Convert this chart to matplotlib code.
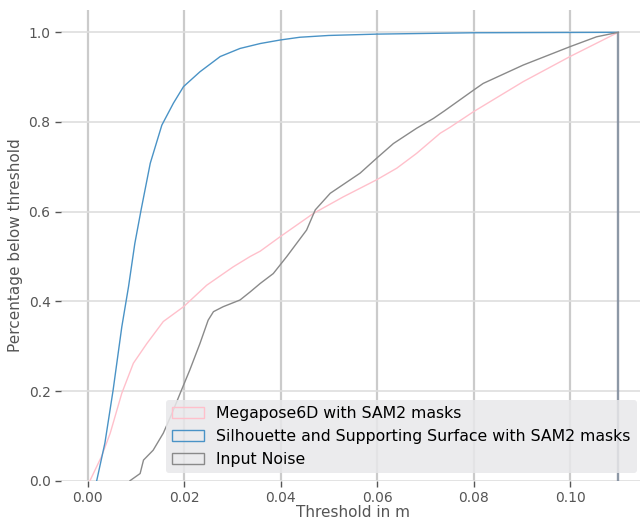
import matplotlib
matplotlib.use("Agg")
import matplotlib.pyplot as plt
from matplotlib.patches import Patch
import numpy as np

# cumulative share of samples below threshold
mega_x = [0.0005, 0.0029, 0.0047, 0.0071, 0.0095, 0.0123, 0.0157, 0.0199, 0.0247,
          0.0302, 0.0337, 0.0358, 0.0399, 0.0468, 0.0530, 0.0599, 0.0641, 0.0682,
          0.0731, 0.0751, 0.0800, 0.0903, 0.1000, 0.1100]
mega_y = [0.0, 0.054, 0.106, 0.195, 0.262, 0.306, 0.355, 0.388, 0.436,
          0.477, 0.500, 0.512, 0.544, 0.596, 0.633, 0.671, 0.697, 0.730,
          0.775, 0.788, 0.823, 0.890, 0.946, 1.0]

sil_x = [0.0019, 0.0036, 0.0053, 0.0071, 0.0085, 0.0098, 0.0111, 0.0130, 0.0154,
         0.0178, 0.0199, 0.0233, 0.0275, 0.0316, 0.0358, 0.0400, 0.0440, 0.0500,
         0.0600, 0.0800, 0.1100]
sil_y = [0.0, 0.084, 0.202, 0.343, 0.433, 0.529, 0.604, 0.708, 0.793,
         0.842, 0.879, 0.912, 0.946, 0.964, 0.975, 0.983, 0.989, 0.993,
         0.996, 0.999, 1.0]

noise_x = [0.0088, 0.0109, 0.0116, 0.0136, 0.0157, 0.0175, 0.0192, 0.0212, 0.0233,
           0.0250, 0.0261, 0.0281, 0.0316, 0.0337, 0.0358, 0.0385, 0.0413, 0.0454,
           0.0472, 0.0503, 0.0565, 0.0599, 0.0634, 0.0682, 0.0717, 0.0740, 0.0800,
           0.0820, 0.0903, 0.1000, 0.1055, 0.1100]
noise_y = [0.0, 0.016, 0.046, 0.068, 0.106, 0.150, 0.195, 0.247, 0.306,
           0.358, 0.377, 0.388, 0.403, 0.421, 0.440, 0.462, 0.500, 0.559,
           0.604, 0.641, 0.686, 0.719, 0.752, 0.786, 0.808, 0.825, 0.871,
           0.886, 0.927, 0.968, 0.990, 1.0]

labels = ["Megapose6D with SAM2 masks",
          "Silhouette and Supporting Surface with SAM2 masks",
          "Input Noise"]
colors = ["#ffc0cb", "#4a93c6", "#8a8a8a"]

fig = plt.figure(figsize=(6.4, 5.21), dpi=100)
ax = fig.add_axes([61 / 640, (521 - 480.7) / 521, (644.8 - 61) / 640, (480.7 - 9.9) / 521])
for s in ax.spines.values():
    s.set_visible(False)

ax.set_axisbelow(True)
ax.grid(axis="x", color="#cbcbcb", linewidth=1.6)
ax.grid(axis="y", color="#dedede", linewidth=1.2)

series = [(mega_x, mega_y), (sil_x, sil_y), (noise_x, noise_y)]
for (xs, ys), c in zip(series, colors):
    ax.plot(xs, ys, color=c, linewidth=1.0)
    # closing edge of the step histogram (the three overlap -> bluish grey)
    ax.vlines(xs[-1], 0, ys[-1], color=c, linewidth=1.6, alpha=0.6)

ax.set_xlim(-0.0055, 0.1155)
ax.set_ylim(0, 1.05)
ax.set_xticks([0.0, 0.02, 0.04, 0.06, 0.08, 0.10])
ax.set_xticklabels(["0.00", "0.02", "0.04", "0.06", "0.08", "0.10"])
ax.set_yticks([0.0, 0.2, 0.4, 0.6, 0.8, 1.0])
ax.tick_params(colors="#555555", labelsize=10, length=4, width=1)
ax.tick_params(axis="x", pad=3.5)
ax.set_xlabel("Threshold in m", fontsize=11, color="#555555", labelpad=0)
ax.set_ylabel("Percentage below threshold", fontsize=11, color="#555555")

handles = [Patch(facecolor="none", edgecolor=c, linewidth=1.0) for c in colors]
leg = ax.legend(handles, labels, loc="lower right", fontsize=11.3,
                bbox_to_anchor=(1.0, 0.0), bbox_transform=ax.transAxes,
                frameon=True, facecolor="#e8e8ea", edgecolor="none", framealpha=0.85)

fig.savefig("out.png", dpi=100)
